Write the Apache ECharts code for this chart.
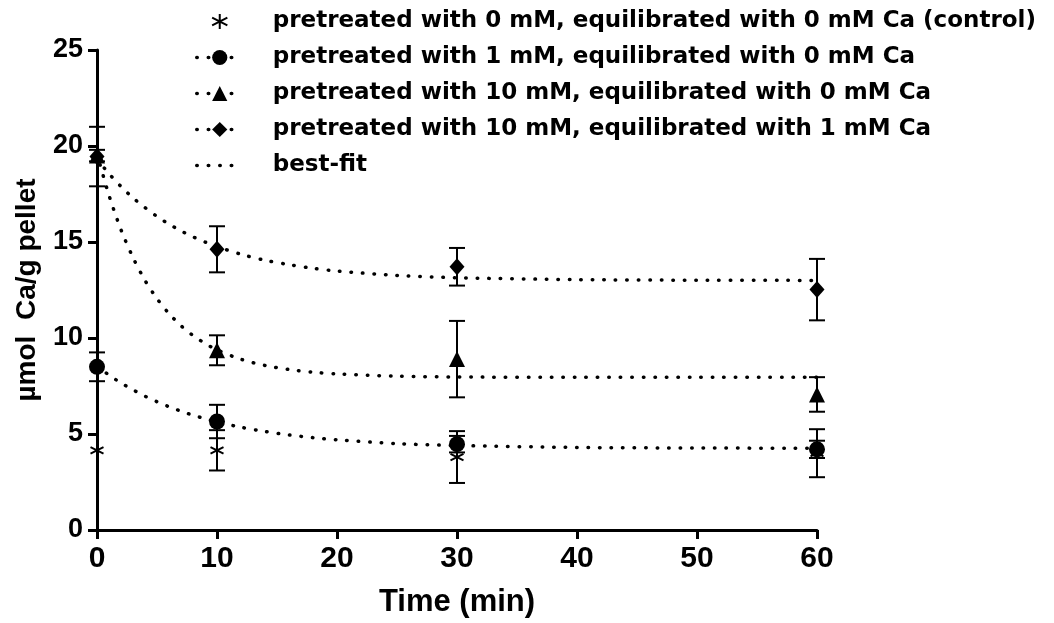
<!DOCTYPE html>
<html lang="en">
<head>
    <meta charset="UTF-8">
    <title>Ca release</title>
    <script src="https://cdn.jsdelivr.net/npm/echarts@6/dist/echarts.min.js"></script>
</head>
<body style="margin:0">
<div id="main" style="width:1054px;height:623px;"></div>
<script type="text/javascript">
    // sampling times (min)
    var times = [0, 10, 30, 60];
    var names = [
        'pretreated with 0 mM, equilibrated with 0 mM Ca (control)',
        'pretreated with 1 mM, equilibrated with 0 mM Ca',
        'pretreated with 10 mM, equilibrated with 0 mM Ca',
        'pretreated with 10 mM, equilibrated with 1 mM Ca'
    ];
    // means and SD
    var ctrlMean = [4.15, 4.15, 3.8, 4.0];
    var ctrlSd = [0, 1.05, 1.35, 1.25];
    var ca1Mean = [8.5, 5.65, 4.47, 4.2];
    var ca1Sd = [0.75, 0.87, 0.43, 0.45];
    var ca10Mean = [19.5, 9.36, 8.9, 7.06];
    var ca10Sd = [0.3, 0.78, 1.99, 0.9];
    var ca10eq1Mean = [19.45, 14.62, 13.71, 12.52];
    var ca10eq1Sd = [1.55, 1.2, 0.98, 1.6];

    // best-fit curves, read at these times
    var fitTimes = [0, 1, 2, 3, 4, 5, 6, 7, 8, 9, 10, 12, 14, 16, 18, 20, 25, 30, 40, 50, 60];
    var fitCa1 = [8.53, 8.07, 7.66, 7.3, 6.97, 6.68, 6.42, 6.19, 5.98, 5.8, 5.63, 5.35, 5.13, 4.95, 4.81, 4.7, 4.5, 4.4, 4.3, 4.27, 4.26];
    var fitCa10 = [19.6, 17.43, 15.64, 14.19, 13.0, 12.05, 11.27, 10.64, 10.13, 9.72, 9.38, 8.89, 8.57, 8.36, 8.22, 8.13, 8.01, 7.97, 7.95, 7.95, 7.95];
    var fitCa10eq1 = [19.32, 18.56, 17.89, 17.3, 16.79, 16.33, 15.93, 15.58, 15.27, 15.0, 14.76, 14.36, 14.05, 13.82, 13.63, 13.49, 13.26, 13.14, 13.04, 13.01, 13.0];

    var asterisk = 'path://M0,-10L0,10M-8.66,-5L8.66,5M-8.66,5L8.66,-5';
    var dotted = {color: '#000', width: 3.5, type: [0.5, 11], cap: 'round', opacity: 1};

    function pairs(xs, ys) {
        return xs.map(function (x, i) { return [x, ys[i]]; });
    }

    function errorSeries(means, sds) {
        var data = [];
        for (var i = 0; i < times.length; i++) {
            if (sds[i] > 0) data.push([times[i], means[i] - sds[i], means[i] + sds[i]]);
        }
        return {
            type: 'custom',
            z: 2,
            clip: false,
            silent: true,
            encode: {x: 0, y: [1, 2]},
            data: data,
            renderItem: function (params, api) {
                var lo = api.coord([api.value(0), api.value(1)]);
                var hi = api.coord([api.value(0), api.value(2)]);
                var w = 8;
                var st = {stroke: '#000', lineWidth: 2};
                return {
                    type: 'group',
                    children: [
                        {type: 'line', shape: {x1: lo[0], y1: lo[1], x2: hi[0], y2: hi[1]}, style: st},
                        {type: 'line', shape: {x1: lo[0] - w, y1: lo[1], x2: lo[0] + w, y2: lo[1]}, style: st},
                        {type: 'line', shape: {x1: hi[0] - w, y1: hi[1], x2: hi[0] + w, y2: hi[1]}, style: st}
                    ]
                };
            }
        };
    }

    function pointSeries(name, means, symbol, size, style) {
        return {
            name: name,
            type: 'line',
            z: 5,
            clip: false,
            symbol: symbol,
            symbolSize: size,
            showAllSymbol: true,
            lineStyle: {opacity: 0},
            itemStyle: style || {color: '#000'},
            data: pairs(times, means)
        };
    }

    function fitSeries(ys) {
        return {
            name: 'best-fit',
            type: 'line',
            z: 3,
            symbol: 'none',
            smooth: 0.3,
            color: '#000',
            itemStyle: {color: '#000'},
            lineStyle: dotted,
            data: pairs(fitTimes, ys)
        };
    }

    var axisFont = {fontFamily: 'Liberation Sans', fontWeight: 'bold', color: '#000'};
    var narrowFont = {fontFamily: "'Liberation Sans Narrow', 'Liberation Sans'", fontWeight: 'bold', color: '#000'};

    var myChart = echarts.init(document.getElementById('main'));
    var option = {
        animation: false,
        grid: {left: 97, right: 237, top: 50, bottom: 92},
        legend: {
            orient: 'vertical',
            left: 190,
            top: 5,
            itemWidth: 46,
            itemHeight: 19,
            itemGap: 13,
            selectedMode: false,
            textStyle: {fontFamily: 'DejaVu Sans', fontWeight: 'bold', fontSize: 23, color: '#000', padding: [0, 0, 0, 25]},
            lineStyle: dotted,
            data: [
                {name: names[0], lineStyle: {opacity: 0}},
                {name: names[1]},
                {name: names[2]},
                {name: names[3]},
                {name: 'best-fit', itemStyle: {opacity: 0}}
            ]
        },
        xAxis: {
            type: 'value',
            min: 0,
            max: 60,
            interval: 10,
            name: 'Time (min)',
            nameLocation: 'middle',
            nameGap: 57,
            nameTextStyle: Object.assign({fontSize: 31}, axisFont),
            axisLine: {lineStyle: {color: '#000', width: 3}},
            axisTick: {length: 9, lineStyle: {color: '#000', width: 3}},
            axisLabel: Object.assign({fontSize: 30, margin: 14}, narrowFont),
            splitLine: {show: false}
        },
        yAxis: {
            type: 'value',
            min: 0,
            max: 25,
            interval: 5,
            name: '\u00b5mol  Ca/g pellet',
            nameLocation: 'middle',
            nameGap: 56,
            nameTextStyle: Object.assign({fontSize: 28}, axisFont),
            axisLine: {lineStyle: {color: '#000', width: 3}},
            axisTick: {length: 9, lineStyle: {color: '#000', width: 3}},
            axisLabel: Object.assign({fontSize: 27, margin: 14}, axisFont),
            splitLine: {show: false}
        },
        series: [
            errorSeries(ctrlMean, ctrlSd),
            errorSeries(ca1Mean, ca1Sd),
            errorSeries(ca10Mean, ca10Sd),
            errorSeries(ca10eq1Mean, ca10eq1Sd),
            fitSeries(fitCa1),
            fitSeries(fitCa10),
            fitSeries(fitCa10eq1),
            pointSeries(names[0], ctrlMean, asterisk, 13, {color: '#000', borderColor: '#000', borderWidth: 2}),
            pointSeries(names[1], ca1Mean, 'circle', 16),
            pointSeries(names[2], ca10Mean, 'triangle', 16),
            pointSeries(names[3], ca10eq1Mean, 'diamond', [15, 17])
        ]
    };
    myChart.setOption(option);
</script>
</body>
</html>
